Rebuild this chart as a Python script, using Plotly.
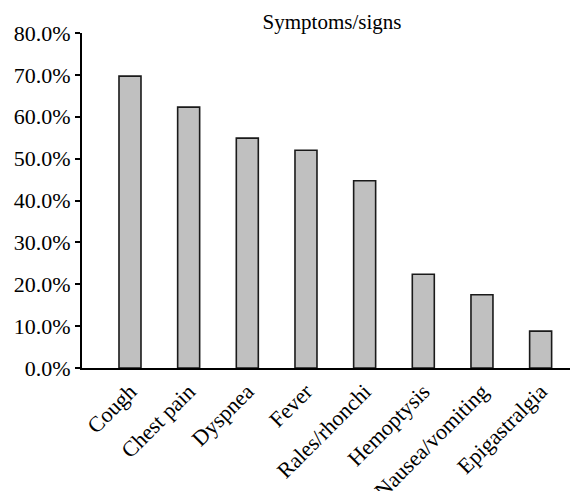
import plotly.graph_objects as go

categories = ["Cough", "Chest pain", "Dyspnea", "Fever", "Rales/rhonchi",
              "Hemoptysis", "Nausea/vomiting", "Epigastralgia"]
values = [0.697, 0.623, 0.549, 0.520, 0.447, 0.224, 0.175, 0.088]
title_text = "Symptoms/signs"

FONT = "Liberation Serif, Times New Roman, serif"

# The page body has an 8px default margin, so the figure is sized to fit.
W, H = 570, 483

fig = go.Figure(go.Bar(
    x=list(range(len(categories))),
    y=values,
    width=0.375,
    marker=dict(color="#c0c0c0", line=dict(color="#1a1a1a", width=1.6)),
))

fig.update_layout(
    width=W, height=H,
    margin=dict(l=74, r=1, t=25, b=123),
    paper_bgcolor="white", plot_bgcolor="white",
    showlegend=False,
    font=dict(family=FONT, size=20, color="black"),
    title=dict(text=title_text, x=324 / W, xanchor="center", y=1 - 14 / H, yanchor="middle",
               xref="container", yref="container",
               font=dict(family=FONT, size=21, color="black")),
)

fig.update_xaxes(
    tickmode="array", tickvals=list(range(len(categories))), ticktext=categories,
    tickangle=-45, range=[-0.818, 7.62], automargin=False,
    showline=True, linecolor="black", linewidth=2,
    ticks="", showgrid=False, zeroline=False,
    tickfont=dict(family=FONT, size=22, color="black"),
)
fig.update_yaxes(
    range=[0, 0.8], dtick=0.1, tickformat=".1%", automargin=False,
    showline=True, linecolor="black", linewidth=2,
    ticks="outside", ticklen=5, tickwidth=2, tickcolor="black",
    showgrid=False, zeroline=False,
    tickfont=dict(family=FONT, size=22, color="black"),
)

fig.write_html("out.html")
